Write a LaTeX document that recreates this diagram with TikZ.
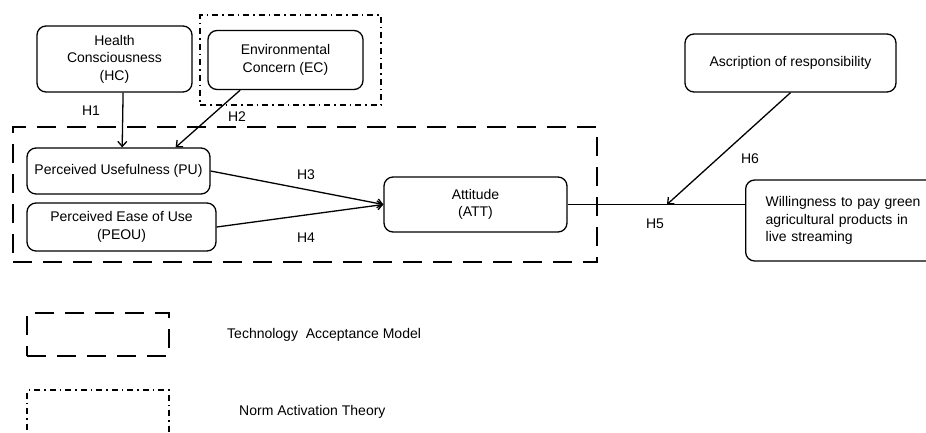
\documentclass[tikz,border=0pt]{standalone}
\usepackage{fontspec}
\setmainfont{Liberation Sans}
\usetikzlibrary{positioning,calc,arrows.meta}

\begin{document}
\begin{tikzpicture}[x=1pt,y=1pt,
  font=\fontsize{14}{17.5}\selectfont,
  box/.style={draw,rounded corners=9pt,line width=1.3pt,align=center,inner sep=0pt},
  conn/.style={line width=1.3pt},
  hyparrow/.style={conn,-{Straight Barb[length=5pt,width=9pt]}},
  hyp/.style={inner sep=0pt},
  tambox/.style={draw,line width=2.6pt,dash pattern=on 19pt off 11pt},
  natbox/.style={draw,line width=1.8pt,dash pattern=on 6pt off 4pt on 1.5pt off 4pt}]
\useasboundingbox (0,0) rectangle (926,-432);
\clip (0,0) rectangle (926,-432);

\node[box,minimum width=155,minimum height=66] (hc) at (114.5,-59) {Health\\Consciousness\\(HC)};
\node[natbox,minimum width=181,minimum height=90] (nat) at (290.5,-60) {};
\node[box,minimum width=155,minimum height=59] (ec) at (285.5,-60) {Environmental\\Concern (EC)};

\node[tambox,minimum width=584,minimum height=135] (tam) at (305,-194.5) {};
\node[box,minimum width=183,minimum height=46] (pu) at (118.5,-171) {Perceived Usefulness (PU)};
\node[box,minimum width=189,minimum height=48] (peou) at (121.5,-227) {Perceived Ease of Use\\(PEOU)};
\node[box,minimum width=183,minimum height=55] (att) at (475.5,-204.5) {Attitude\\(ATT)};

\node[box,minimum width=211,minimum height=58] (ar) at (790.5,-63) {Ascription of responsibility};
\node[box,text width=162,inner xsep=20,minimum height=81,align=left,anchor=west] (wtp) at (745,-220.5)
  {Willingness to pay green\\agricultural products in\\live streaming};

\draw[hyparrow] ($(hc.south west)!0.555!(hc.south east)$) -- ($(pu.north west)!0.52!(pu.north east)$);
\draw[hyparrow] ($(ec.south west)!0.21!(ec.south east)$) -- ($(pu.north west)!0.81!(pu.north east)$);
\draw[hyparrow] (pu.east) -- (att.west);
\draw[hyparrow] (peou.east) -- (att.west);
\draw[conn] (att.east) -- (att.east -| wtp.west);
\coordinate (h6end) at ($(att.east)!0.56!(att.east -| wtp.west)$);
\draw[hyparrow] (ar.south) -- (h6end);

\node[hyp] (h1) at (91,-111) {H1};
\node[hyp] (h2) at (237,-117) {H2};
\node[hyp] (h3) at (306,-175) {H3};
\node[hyp] (h4) at (306,-238) {H4};
\node[hyp] (h5) at (655,-224) {H5};
\node[hyp] (h6) at (750,-159) {H6};

% legend
\node[tambox,minimum width=142,minimum height=43] (legtam) at (98,-334.5) {};
\node[hyp,anchor=west] (legtamtext) at (227,-335) {Technology\ \ Acceptance Model};
\node[natbox,minimum width=142,minimum height=70] (legnat) at (98,-425) {};
\node[hyp,anchor=west] (legnattext) at (239,-412) {Norm Activation Theory};
\end{tikzpicture}
\end{document}
